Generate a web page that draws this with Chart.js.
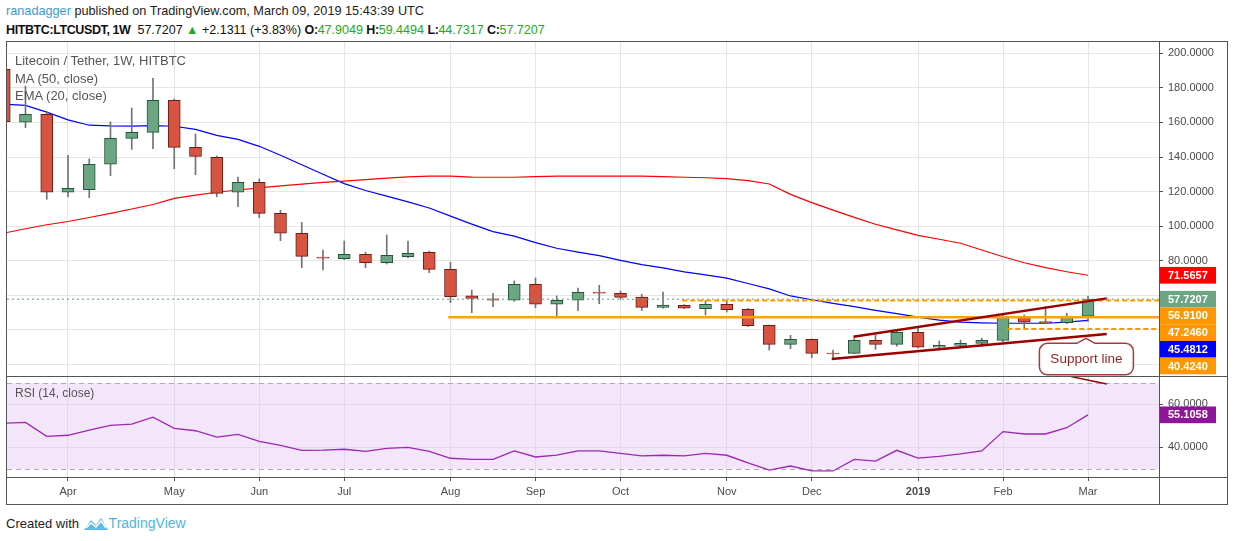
<!DOCTYPE html>
<html lang="en">
<head>
<meta charset="UTF-8">
<title>Litecoin / Tether, 1W, HITBTC</title>
<style>
  body { margin: 0; width: 1234px; height: 541px; background: #fff; position: relative; overflow: hidden;
         font-family: "Liberation Sans", Arial, sans-serif; }
  .abs { position: absolute; white-space: nowrap; }
  .line { position: absolute; background: #555; }
  #hdr1 { left: 6px; top: 4px; font-size: 12.7px; color: #222; }
  #hdr1 .user { color: #3b99d8; }
  #hdr2 { left: 6px; top: 23px; font-size: 12.5px; color: #111; }
  #hdr2 b { letter-spacing: -0.4px; }
  #hdr2 .g { color: #22a822; }
  .legend { left: 15px; font-size: 13px; color: #555; }
  #footer { left: 6px; top: 515px; font-size: 13px; color: #222; }
  #footer .tv { color: #4fb3e3; font-size: 14px; }
</style>
</head>
<body>
  <div id="hdr1" class="abs"><span class="user">ranadagger</span> published on TradingView.com, March 09, 2019 15:43:39 UTC</div>
  <div id="hdr2" class="abs"><b>HITBTC:LTCUSDT, 1W</b>&nbsp; 57.7207 <span class="g">&#9650;</span> +2.1311 (+3.83%) <b>O:</b><span class="g">47.9049</span> <b>H:</b><span class="g">59.4494</span> <b>L:</b><span class="g">44.7317</span> <b>C:</b><span class="g">57.7207</span></div>

  <canvas id="price" class="abs" width="1220" height="335" style="left:7px; top:42px;"></canvas>
  <canvas id="rsi" class="abs" width="1220" height="127" style="left:7px; top:377px;"></canvas>

  <!-- frame and pane separators -->
  <div class="abs" style="left:6px; top:41px; width:1220px; height:462px; border:1px solid #555;"></div>
  <div class="line" style="left:7px; top:376px; width:1220px; height:1px;"></div>
  <div class="line" style="left:7px; top:477px; width:1220px; height:1px;"></div>
  <div class="line" style="left:1159px; top:41px; width:1px; height:463px;"></div>

  <div class="abs legend" style="top:53px;">Litecoin / Tether, 1W, HITBTC</div>
  <div class="abs legend" style="top:71px;">MA (50, close)</div>
  <div class="abs legend" style="top:88px;">EMA (20, close)</div>
  <div class="abs legend" style="top:386px; font-size:12px;">RSI (14, close)</div>

  <div id="footer" class="abs">Created with
    <svg width="26" height="16" viewBox="0 0 26 16" style="vertical-align:-3px;">
      <path d="M1 15 L8 5 L13 10 L18 3 L25 15 Z" fill="#5cbbe6"/>
      <path d="M3 13 L8 8 L13 12 L18 6 L23 13" fill="none" stroke="#fff" stroke-width="1.5"/>
    </svg><span class="tv">TradingView</span></div>

<script src="https://cdn.jsdelivr.net/npm/chart.js"></script>
<script>
// weekly bars, HITBTC LTC/USDT
const weeks = [
  '2018-03-12','2018-03-19','2018-03-26','2018-04-02','2018-04-09','2018-04-16','2018-04-23','2018-04-30',
  '2018-05-07','2018-05-14','2018-05-21','2018-05-28','2018-06-04','2018-06-11','2018-06-18','2018-06-25',
  '2018-07-02','2018-07-09','2018-07-16','2018-07-23','2018-07-30','2018-08-06','2018-08-13','2018-08-20',
  '2018-08-27','2018-09-03','2018-09-10','2018-09-17','2018-09-24','2018-10-01','2018-10-08','2018-10-15',
  '2018-10-22','2018-10-29','2018-11-05','2018-11-12','2018-11-19','2018-11-26','2018-12-03','2018-12-10',
  '2018-12-17','2018-12-24','2018-12-31','2019-01-07','2019-01-14','2019-01-21','2019-01-28','2019-02-04',
  '2019-02-11','2019-02-18','2019-02-25','2019-03-04'
];
const open  = [190.8,160.1,164.7,119.6,121.1,135.8,150.8,154.3,172.8,145.6,139.8,119.6,125.4,107.4,95.9,82.1,
               81.2,83.7,78.8,82.3,84.9,75.0,59.6,58.0,57.1,66.3,54.8,57.1,61.8,61.1,59.0,52.9,
               54.2,52.2,54.8,51.9,42.6,31.6,34.5,26.6,26.4,33.9,31.6,38.6,29.9,31.0,32.2,33.9,
               47.2,44.7,44.2,47.9049];
const high  = [195.0,181.0,166.0,141.0,138.9,160.3,168.4,185.6,173.5,153.3,140.6,128.4,127.3,109.3,102.2,86.2,
               91.4,85.0,94.9,91.4,85.6,79.2,63.0,61.1,68.3,70.0,59.6,64.2,65.8,62.5,60.6,61.9,
               54.6,56.9,56.9,52.5,42.8,36.8,34.7,28.3,34.9,37.0,39.7,40.9,33.5,34.1,35.1,48.4,
               48.6,53.6,49.6,59.4494];
const low   = [158.0,157.0,115.5,117.0,116.5,129.2,144.5,144.8,133.2,129.8,117.0,111.2,104.9,91.6,76.0,74.6,
               80.6,76.0,78.1,81.6,73.1,55.7,49.9,53.4,56.5,52.8,47.6,51.1,55.1,57.7,51.1,52.6,
               52.3,48.6,50.3,41.8,28.3,29.1,23.9,23.1,26.2,28.7,30.5,29.6,29.3,29.9,30.5,33.1,
               41.2,43.8,43.6,44.7317];
const close = [160.4,164.7,119.6,121.9,135.8,150.8,154.3,172.8,145.6,140.4,119.0,125.4,107.4,95.9,82.5,81.4,
               83.7,78.8,83.1,84.3,75.0,59.2,58.2,57.1,66.3,54.8,57.1,61.7,61.2,58.8,53.0,54.3,
               52.5,54.8,51.6,42.4,31.6,34.5,26.4,26.1,33.9,31.6,38.6,29.9,31.0,32.2,33.9,47.2,
               44.4,44.2,47.9,57.7207];
const ma50  = [96.0,98.5,100.8,102.7,105.0,107.4,109.9,112.5,116.1,118.0,119.6,120.9,122.2,123.3,124.3,125.3,
               126.0,126.9,127.8,128.5,129.0,129.0,128.4,128.3,128.3,128.7,129.0,129.0,129.0,129.0,129.0,128.6,
               128.3,128.0,127.5,126.3,124.4,118.4,113.6,109.3,105.1,101.1,97.8,94.7,92.4,90.1,86.2,82.3,
               78.8,76.0,73.6,71.5657];
const ema20 = [170.5,169.9,166.0,161.5,158.4,158.0,157.9,158.2,157.8,156.0,152.5,150.2,146.2,141.0,135.5,130.0,
               124.6,120.6,117.4,114.0,110.5,105.8,101.2,96.8,94.2,90.5,87.2,85.0,82.9,80.2,77.7,75.9,
               73.5,71.8,69.9,66.8,63.7,59.6,57.4,55.3,53.4,51.3,49.4,47.4,45.6,44.4,44.0,43.8,
               43.8,43.8,44.4,45.4812];
const rsi14 = [51.2,51.6,45.1,45.6,48.0,50.2,50.8,54.0,48.8,47.7,44.7,46.0,42.8,40.9,38.6,38.7,
               39.1,38.1,39.5,40.0,38.1,34.9,34.4,34.4,38.3,35.5,36.4,38.3,38.3,37.2,36.0,36.3,
               36.0,37.2,36.3,32.8,29.4,31.3,29.0,29.0,34.4,33.6,38.6,35.0,35.8,36.9,38.3,47.3,
               46.2,46.2,49.1,55.1058];

// time axis
const monthWeeks  = ['2018-04-02','2018-05-07','2018-06-04','2018-07-02','2018-08-06','2018-09-03',
                     '2018-10-01','2018-11-05','2018-12-03','2019-01-07','2019-02-04','2019-03-04'];
const monthLabels = ['Apr','May','Jun','Jul','Aug','Sep','Oct','Nov','Dec','2019','Feb','Mar'];
const priceTicks  = [20, 40, 60, 80, 100, 120, 140, 160, 180, 200];
const rsiTicks    = [40, 60];
const rsiBand     = [30, 70];

// drawings: horizontal levels (value, first week index), trend lines, callout
const levels      = [56.91, 47.246, 40.424];
const levelFrom   = [31.9, 20.9, 47.2];
const upperTrend  = [[39.96, 36.0], [51.88, 58.2]];
const lowerTrend  = [[38.94, 23.1], [51.88, 37.6]];
const rsiTrend    = [[50.2, 72.9], [51.88, 69.4]];
const calloutAt   = [50.9, 35.1];
const calloutText = 'Support line';

const X_MIN = 0.13, X_MAX = 54.34;
const FONT = '"Liberation Sans", Arial, sans-serif';
const monthIdx = monthWeeks.map(w => weeks.indexOf(w));
const last = weeks.length - 1;
const idx = weeks.map((w, i) => i);
const toXY = pts => pts.map(p => ({x: p[0], y: p[1]}));

const GREEN = '#6ba583', GREEN_DARK = '#225437', RED = '#d75442', RED_DARK = '#6f1b11';

// price tags on the right axis, stacked so they do not overlap
const TAG_H = 16.7;
const priceTags = {
    id: 'priceTags',
    afterDraw(chart) {
        const {ctx, chartArea, scales: {y}} = chart;
        const tags = [[ma50[last], '#ff0000'], [close[last], GREEN], [ema20[last], '#0000ff']]
            .concat(levels.map(v => [v, '#ff9800']))
            .sort((a, b) => b[0] - a[0]);
        let prevBottom = -Infinity;
        ctx.save();
        ctx.font = 'bold 11px ' + FONT;
        ctx.textBaseline = 'middle';
        tags.forEach(([v, c]) => {
            const top = Math.max(y.getPixelForValue(v) - TAG_H / 2, prevBottom);
            ctx.fillStyle = c;
            ctx.fillRect(chartArea.right, top, 57, TAG_H);
            ctx.fillStyle = '#fff';
            ctx.fillText(v.toFixed(4), chartArea.right + 9, top + TAG_H / 2 + 0.5);
            prevBottom = top + TAG_H;
        });
        ctx.restore();
    }
};

// "Support line" callout, anchored to a price/time point
const callout = {
    id: 'callout',
    afterDatasetsDraw(chart) {
        const {ctx, scales: {x, y}} = chart;
        const tx = x.getPixelForValue(calloutAt[0]), ty = y.getPixelForValue(calloutAt[1]);
        const left = tx - 46.5, top = ty + 5, w = 94, h = 31.5, r = 8;
        ctx.save();
        ctx.beginPath();
        ctx.moveTo(left + r, top);
        ctx.lineTo(tx - 9, top);
        ctx.lineTo(tx, ty);
        ctx.lineTo(tx + 9, top);
        ctx.lineTo(left + w - r, top);
        ctx.arcTo(left + w, top, left + w, top + r, r);
        ctx.lineTo(left + w, top + h - r);
        ctx.arcTo(left + w, top + h, left + w - r, top + h, r);
        ctx.lineTo(left + r, top + h);
        ctx.arcTo(left, top + h, left, top + h - r, r);
        ctx.lineTo(left, top + r);
        ctx.arcTo(left, top, left + r, top, r);
        ctx.closePath();
        ctx.fillStyle = '#fff';
        ctx.fill();
        ctx.strokeStyle = '#a83a3a';
        ctx.lineWidth = 1.5;
        ctx.stroke();
        ctx.fillStyle = '#9c1c1c';
        ctx.font = '13.5px ' + FONT;
        ctx.textAlign = 'center';
        ctx.textBaseline = 'middle';
        ctx.fillText(calloutText, left + w / 2, top + h / 2 + 0.5);
        ctx.restore();
    }
};

// RSI band fill, dashed 70/30 lines and last value tag
const rsiDecor = {
    id: 'rsiDecor',
    beforeDraw(chart) {
        const {ctx, chartArea, scales: {y}} = chart;
        const y1 = y.getPixelForValue(rsiBand[1]), y0 = y.getPixelForValue(rsiBand[0]);
        ctx.save();
        ctx.fillStyle = '#f3e6fb';
        ctx.fillRect(chartArea.left, y1, chartArea.width, y0 - y1);
        ctx.restore();
    },
    beforeDatasetsDraw(chart) {
        const {ctx, chartArea, scales: {y}} = chart;
        ctx.save();
        ctx.strokeStyle = '#b3a6bb';
        ctx.lineWidth = 1;
        ctx.setLineDash([5, 4]);
        rsiBand.forEach(v => {
            const py = Math.round(y.getPixelForValue(v)) + 0.5;
            ctx.beginPath();
            ctx.moveTo(chartArea.left, py);
            ctx.lineTo(chartArea.right, py);
            ctx.stroke();
        });
        ctx.restore();
    },
    afterDraw(chart) {
        const {ctx, chartArea, scales: {y}} = chart;
        const v = rsi14[last];
        const top = y.getPixelForValue(v) - TAG_H / 2;
        ctx.save();
        ctx.fillStyle = '#8e1599';
        ctx.fillRect(chartArea.right, top, 57, TAG_H);
        ctx.fillStyle = '#fff';
        ctx.font = 'bold 11px ' + FONT;
        ctx.textBaseline = 'middle';
        ctx.fillText(v.toFixed(4), chartArea.right + 9, top + TAG_H / 2 + 0.5);
        ctx.restore();
    }
};

// no automatic label padding: the chart area must fill the pane exactly
const noPad = s => { s.paddingTop = 0; s.paddingBottom = 0; s.paddingLeft = 0; s.paddingRight = 0; };

const xScale = (showLabels, gridColor) => ({
    type: 'linear',
    min: X_MIN,
    max: X_MAX,
    offset: false,
    afterBuildTicks: s => { s.ticks = monthIdx.map(v => ({value: v})); },
    afterFit: s => { s.height = showLabels ? 27 : 0; noPad(s); },
    ticks: {
        display: showLabels,
        autoSkip: false,
        maxRotation: 0,
        padding: 4,
        color: '#4a4a4a',
        font: c => ({family: FONT, size: 11, weight: monthLabels[c.index] === '2019' ? 'bold' : 'normal'}),
        callback: v => monthLabels[monthIdx.indexOf(v)]
    },
    grid: {color: gridColor, offset: false, drawTicks: showLabels, tickLength: 4, tickColor: '#555'},
    border: {display: false}
});

const yScale = (min, max, tickValues, showFrom) => ({
    position: 'right',
    min: min,
    max: max,
    afterBuildTicks: s => { s.ticks = tickValues.map(v => ({value: v})); },
    afterFit: s => { s.width = 68; noPad(s); },
    ticks: {
        padding: 5,
        color: '#4a4a4a',
        font: {family: FONT, size: 11},
        callback: v => v >= showFrom ? v.toFixed(4) : ''
    },
    grid: {tickLength: 4, tickColor: '#555'},
    border: {display: false}
});

const lineSet = (data, color, width, order, dash) => ({
    type: 'line',
    data: data,
    borderColor: color,
    borderWidth: width,
    borderDash: dash || [],
    pointRadius: 0,
    tension: 0,
    order: order,
    clip: 0
});

const priceY = yScale(12.7, 206.56, priceTicks, 80);
priceY.grid.color = '#e6e6e6';

new Chart(document.getElementById('price'), {
    type: 'bar',
    data: {
        datasets: [
            lineSet(idx.map(i => ({x: i, y: ma50[i]})), '#ff0000', 1.2, 6),
            lineSet(idx.map(i => ({x: i, y: ema20[i]})), '#0000ff', 1.2, 6),
            {
                data: idx.map(i => ({x: i, y: [low[i], high[i]]})),
                backgroundColor: '#737375',
                barThickness: 1,
                grouped: false,
                order: 5,
                clip: 0
            },
            {
                data: idx.map(i => ({x: i, y: [open[i], close[i]]})),
                backgroundColor: idx.map(i => close[i] >= open[i] ? GREEN : RED),
                borderColor: idx.map(i => close[i] >= open[i] ? GREEN_DARK : RED_DARK),
                borderWidth: 1,
                borderSkipped: false,
                barThickness: 12,
                grouped: false,
                order: 4,
                clip: 0
            },
            lineSet([{x: X_MIN, y: close[last]}, {x: X_MAX, y: close[last]}], '#5f9e78', 1, 3, [2, 3]),
            lineSet([{x: levelFrom[0], y: levels[0]}, {x: X_MAX, y: levels[0]}], '#ff9800', 2, 2, [5, 3]),
            lineSet([{x: levelFrom[1], y: levels[1]}, {x: X_MAX, y: levels[1]}], '#ff9e1a', 2.5, 2),
            lineSet([{x: levelFrom[2], y: levels[2]}, {x: X_MAX, y: levels[2]}], '#ff9800', 2, 2, [5, 3]),
            lineSet(toXY(upperTrend), '#990000', 2.5, 1),
            lineSet(toXY(lowerTrend), '#990000', 2.5, 1)
        ]
    },
    options: {
        responsive: false,
        animation: false,
        layout: {padding: 0, autoPadding: false},
        plugins: {legend: {display: false}, tooltip: {enabled: false}},
        scales: {x: xScale(false, '#e6e6e6'), y: priceY}
    },
    plugins: [priceTags, callout]
});

const rsiY = yScale(26.19, 72.70, rsiTicks, 0);
rsiY.grid.color = '#e3d6ea';

new Chart(document.getElementById('rsi'), {
    type: 'line',
    data: {
        datasets: [
            lineSet(idx.map(i => ({x: i, y: rsi14[i]})), '#9c27b0', 1.3, 2),
            lineSet(toXY(rsiTrend), '#990000', 1.5, 1)
        ]
    },
    options: {
        responsive: false,
        animation: false,
        layout: {padding: 0, autoPadding: false},
        plugins: {legend: {display: false}, tooltip: {enabled: false}},
        scales: {x: xScale(true, '#e3d6ea'), y: rsiY}
    },
    plugins: [rsiDecor]
});
</script>
</body>
</html>
